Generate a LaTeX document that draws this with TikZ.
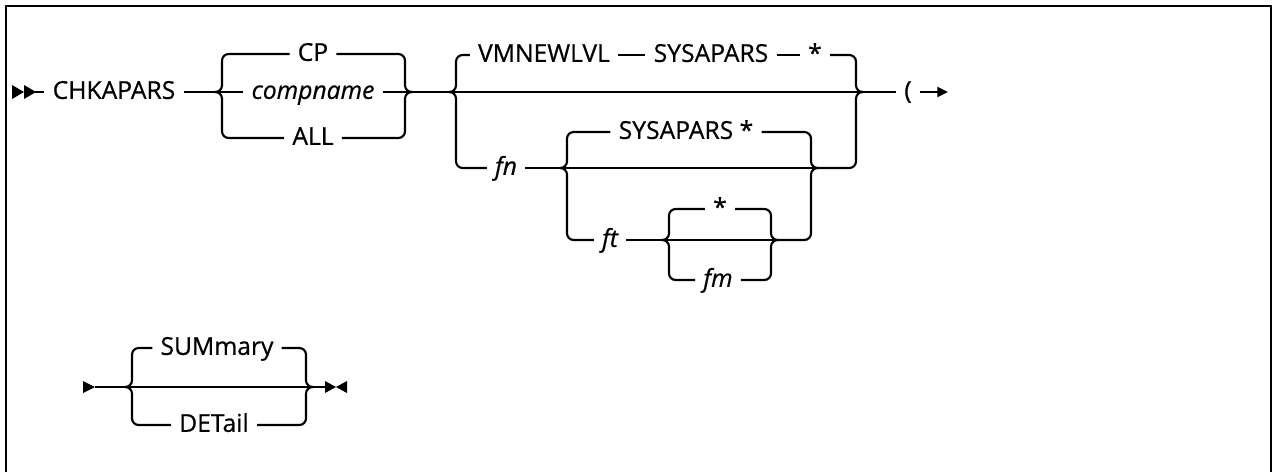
\documentclass[tikz,border=0pt]{standalone}
\usepackage{fontspec}
\setmainfont{Open Sans}[FakeBold=0.6]
\usepackage{tikz}
\usetikzlibrary{arrows.meta,positioning,calc}

\begin{document}
\begin{tikzpicture}[x=0.75pt,y=-0.75pt,
  rail/.style={line width=1.6pt,rounded corners=5pt},
  kw/.style={inner xsep=6pt,inner ysep=0pt,text height=10.3pt,text depth=0pt,
    font=\fontsize{18.5}{22}\selectfont},
  var/.style={kw,font=\fontsize{18.5}{22}\selectfont\itshape},
  tip/.style={-{Triangle[length=8pt,width=7.5pt]}}]
\useasboundingbox (0,0) rectangle (1273,472);
% frame, open at the bottom
\draw[line width=2pt] (6,472) -- (6,6) -- (1271,6) -- (1271,472);
% row 1: start
\fill (12,85) -- (24,92) -- (12,99) -- cycle;
\fill (24,85) -- (36,92) -- (24,99) -- cycle;
\coordinate (s1) at (35,92);
\node[kw] (chk) at (114,92) {CHKAPARS};
\draw[rail] (s1) -- (chk.west);
% CP | compname | ALL
\coordinate (j1) at (215,92);
\coordinate (v1) at (222,92);
\coordinate (v1r) at (405,92);
\coordinate (j1r) at (412,92);
\node[kw] (cp) at (313,54) {CP};
\node[var] (comp) at (313,92) {compname};
\node[kw] (all) at (313,138) {ALL};
\draw[rail] (chk.east) -- (j1);
\draw[rail] (j1) -| (v1 |- cp) -- (cp.west);
\draw[rail] (cp.east) -| (v1r) -- (j1r);
\draw[rail] (j1) -- (comp.west) (comp.east) -- (j1r);
\draw[rail] (j1) -| (v1 |- all) -- (all.west);
\draw[rail] (all.east) -| (v1r) -- (j1r);
% VMNEWLVL SYSAPARS * | (none) | fn ...
\coordinate (j2) at (450,92);
\coordinate (v2) at (456,92);
\coordinate (v2r) at (856,92);
\coordinate (j2r) at (862,92);
\node[kw] (vmn) at (544,55) {VMNEWLVL};
\node[kw] (sys1) at (711,55) {SYSAPARS};
\node[kw] (st1) at (815,55) {*};
\draw[rail] (j1r) -- (j2);
\draw[rail] (j2) -| (v2 |- vmn) -- (vmn.west);
\draw[rail] (vmn.east) -- (sys1.west) (sys1.east) -- (st1.west);
\draw[rail] (st1.east) -| (v2r) -- (j2r);
\draw[rail] (j2) -- (j2r);
\node[var] (fn) at (506,168) {fn};
\draw[rail] (j2) -| (v2 |- fn) -- (fn.west);
% after fn: SYSAPARS * | (none) | ft ...
\coordinate (j3) at (560,168);
\coordinate (v3) at (567,168);
\coordinate (v3r) at (811,168);
\coordinate (j3r) at (817,168);
\node[kw] (sys2) at (686,132) {SYSAPARS *};
\draw[rail] (fn.east) -- (j3);
\draw[rail] (j3) -| (v3 |- sys2) -- (sys2.west);
\draw[rail] (sys2.east) -| (v3r) -- (j3r);
\draw[rail] (j3) -- (j3r);
\node[var] (ft) at (610,240) {ft};
\draw[rail] (j3) -| (v3 |- ft) -- (ft.west);
% after ft: * | (none) | fm
\coordinate (j4) at (663,240);
\coordinate (v4) at (669,240);
\coordinate (v4r) at (771,240);
\coordinate (j4r) at (777,240);
\node[kw] (st2) at (720,209) {*};
\node[var] (fm) at (718,280) {fm};
\draw[rail] (ft.east) -- (j4);
\draw[rail] (j4) -| (v4 |- st2) -- (st2.west);
\draw[rail] (st2.east) -| (v4r) -- (j4r);
\draw[rail] (j4) -- (j4r);
\draw[rail] (j4) -| (v4 |- fm) -- (fm.west);
\draw[rail] (fm.east) -| (v4r) -- (j4r);
\draw[rail] (j4r) -| (v3r) -- (j3r);
\draw[rail] (j3r) -| (v2r) -- (j2r);
% open paren, continued
\node[kw] (paren) at (908,92) {(};
\coordinate (c1) at (948,92);
\draw[rail] (j2r) -- (paren.west);
\draw[rail,tip] (paren.east) -- (c1);
% row 2
\fill (83,381) -- (95,387) -- (83,393) -- cycle;
\coordinate (s2) at (95,387);
\coordinate (j5) at (125,387);
\coordinate (v5) at (132,387);
\coordinate (v5r) at (306,387);
\coordinate (j5r) at (313,387);
\coordinate (e2) at (325,387);
\node[kw] (sum) at (217,348) {SUMmary};
\node[kw] (det) at (214,425) {DETail};
\draw[rail] (s2) -- (j5) -- (j5r) -- (e2);
\draw[rail] (j5) -| (v5 |- sum) -- (sum.west);
\draw[rail] (sum.east) -| (v5r) -- (j5r);
\draw[rail] (j5) -| (v5 |- det) -- (det.west);
\draw[rail] (det.east) -| (v5r) -- (j5r);
% end mark
\fill (325,381) -- (336,387) -- (325,393) -- cycle;
\fill (347,381) -- (336,387) -- (347,393) -- cycle;
\end{tikzpicture}
\end{document}
